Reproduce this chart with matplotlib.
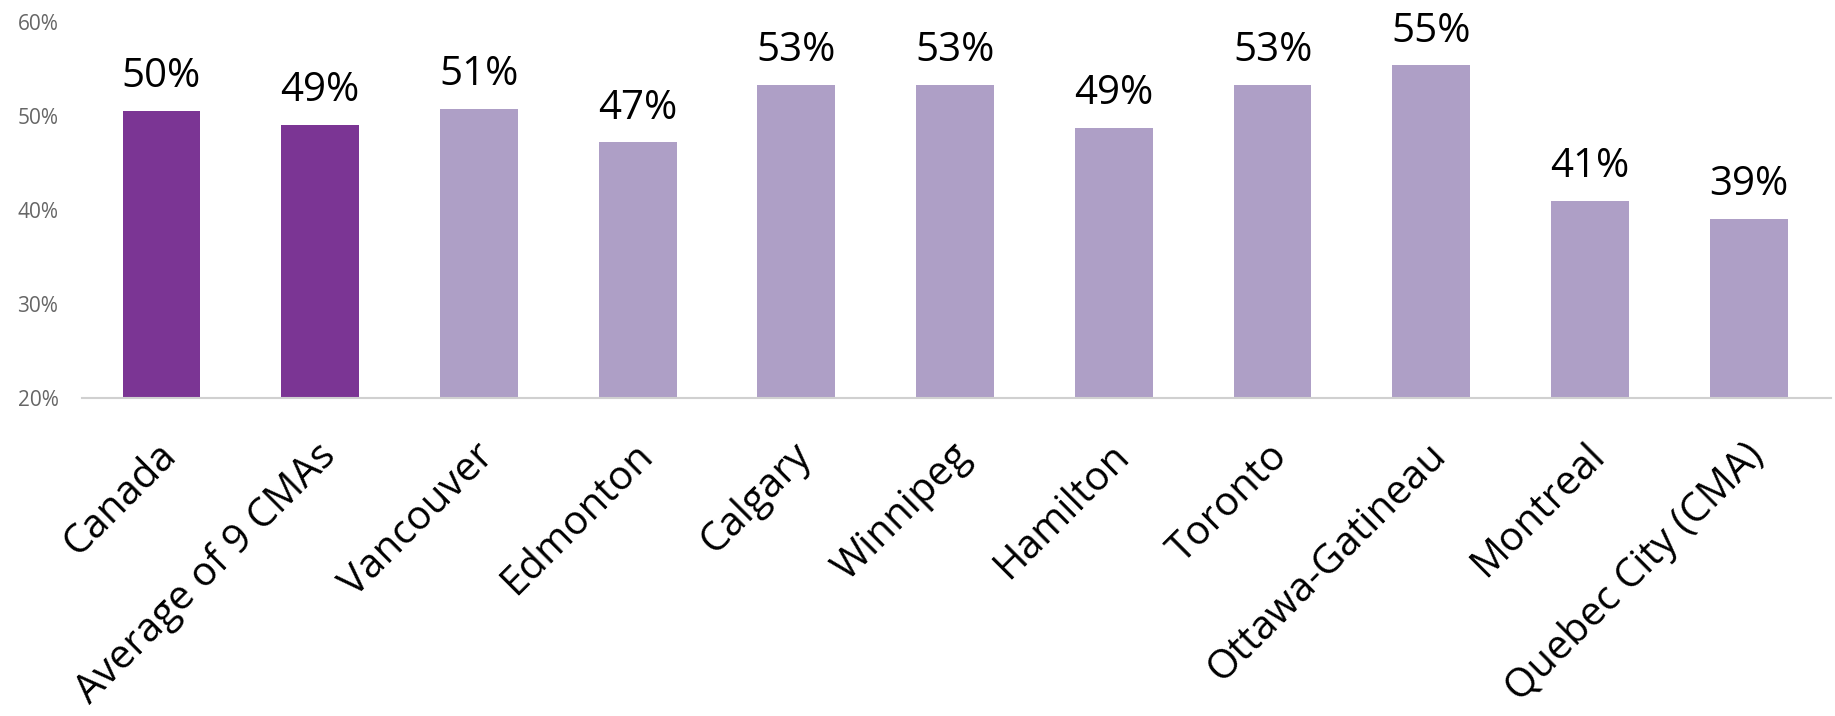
import matplotlib
matplotlib.use('Agg')
import matplotlib.pyplot as plt
from matplotlib.transforms import ScaledTranslation

# values (percent)
categories = ['Canada', 'Average of 9 CMAs', 'Vancouver', 'Edmonton', 'Calgary', 'Winnipeg',
              'Hamilton', 'Toronto', 'Ottawa-Gatineau', 'Montreal', 'Quebec City (CMA)']
values = [50.6, 49.1, 50.8, 47.2, 53.3, 53.3, 48.7, 53.3, 55.4, 41.0, 39.1]
labels = ['50%', '49%', '51%', '47%', '53%', '53%', '49%', '53%', '55%', '41%', '39%']
yticks = [20, 30, 40, 50, 60]

dark = '#7b3594'
light = '#ae9fc6'
colors = [dark, dark] + [light] * (len(categories) - 2)

plt.rcParams['font.family'] = ['Open Sans', 'DejaVu Sans']

fig = plt.figure(figsize=(18.35, 7.16), dpi=100)
ax = fig.add_axes([0.0447, 0.444, 0.9533, 0.525])

x = list(range(len(categories)))
ax.bar(x, [v - 20 for v in values], bottom=20, width=0.49, color=colors)

for xi, v, lab in zip(x, values, labels):
    ax.annotate(lab, (xi, v), xytext=(0, 10), textcoords='offset points',
                ha='center', va='bottom', fontsize=29, color='black')

ax.set_ylim(20, 60)
ax.set_xlim(-0.5, len(categories) - 0.48)
ax.set_yticks(yticks)
ax.set_yticklabels([f'{t}%' for t in yticks], fontsize=15, color='#666666')
ax.tick_params(axis='y', length=0, pad=17)
ax.tick_params(axis='x', length=0, pad=27)
ax.set_xticks(x)
ax.set_xticklabels(categories, rotation=45, ha='right', va='top', rotation_mode='anchor',
                   fontsize=29, color='black')
shift = ScaledTranslation(-5 / 100, 0, fig.dpi_scale_trans)
for t in ax.get_xticklabels():
    t.set_transform(t.get_transform() + shift)

for side in ['top', 'right', 'left']:
    ax.spines[side].set_visible(False)
ax.spines['bottom'].set_color('#d0d0d0')
ax.spines['bottom'].set_linewidth(1.5)

fig.savefig('out.png', dpi=100)
